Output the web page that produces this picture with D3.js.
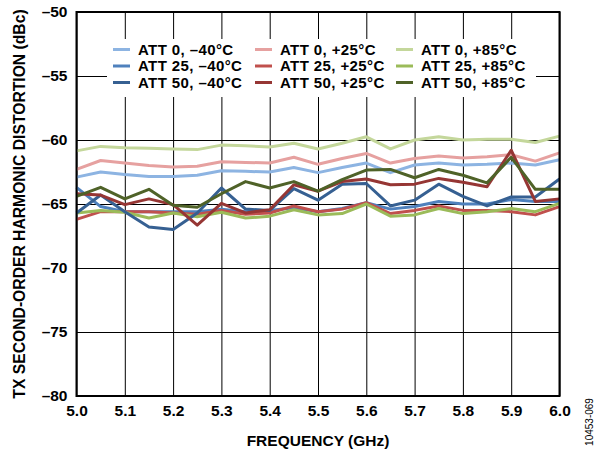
<!DOCTYPE html>
<html>
<head>
<meta charset="utf-8">
<script src="https://cdn.jsdelivr.net/npm/d3@7"></script>
<style>
  body { margin: 0; background: #fff; }
  text { font-family: "Liberation Sans", Arial, sans-serif; }
</style>
</head>
<body>
<script>
// frequency points (GHz)
let freqs = [5.0, 5.05, 5.1, 5.15, 5.2, 5.25, 5.3, 5.35, 5.4, 5.45, 5.5,
             5.55, 5.6, 5.65, 5.7, 5.75, 5.8, 5.85, 5.9, 5.95, 6.0];

let xTicks = [5.0, 5.1, 5.2, 5.3, 5.4, 5.5, 5.6, 5.7, 5.8, 5.9, 6.0];
let yTicks = [-80, -75, -70, -65, -60, -55, -50];

// series, in legend order
let att0m40  = [-62.9, -62.5, -62.7, -62.85, -62.85, -62.75, -62.4, -62.45, -62.5, -62.15, -62.55, -62.15, -61.8, -62.55, -61.95, -61.8, -61.95, -61.9, -61.8, -61.95, -61.55];
let att0p25  = [-62.3, -61.6, -61.8, -62.0, -62.1, -62.05, -61.7, -61.75, -61.8, -61.35, -61.9, -61.45, -61.05, -61.8, -61.45, -61.25, -61.4, -61.3, -61.15, -61.65, -61.0];
let att0p85  = [-60.85, -60.5, -60.6, -60.65, -60.7, -60.75, -60.4, -60.45, -60.55, -60.25, -60.7, -60.25, -59.75, -60.7, -60.0, -59.75, -60.0, -59.95, -59.95, -60.2, -59.7];
let att25m40 = [-63.7, -65.2, -65.6, -65.6, -65.6, -65.6, -65.4, -65.6, -65.5, -65.3, -65.6, -65.35, -64.9, -65.4, -65.2, -64.8, -65.0, -65.0, -64.65, -64.8, -64.8];
let att25p25 = [-66.2, -65.6, -65.6, -65.6, -65.7, -65.8, -65.5, -65.8, -65.7, -65.15, -65.6, -65.4, -64.9, -65.75, -65.5, -65.15, -65.5, -65.5, -65.6, -65.85, -65.2];
let att25p85 = [-65.7, -65.5, -65.65, -66.1, -65.7, -66.0, -65.65, -66.1, -65.95, -65.45, -65.85, -65.75, -65.0, -65.95, -65.85, -65.35, -65.75, -65.6, -65.35, -65.6, -64.95];
let att50m40 = [-65.7, -64.3, -65.6, -66.8, -67.0, -65.7, -63.75, -65.4, -65.5, -63.8, -64.7, -63.45, -63.4, -65.15, -64.7, -63.45, -64.4, -65.15, -64.45, -64.45, -63.05];
let att50p25 = [-64.2, -64.3, -65.05, -64.6, -65.05, -66.65, -64.95, -65.7, -65.45, -63.5, -64.0, -63.25, -63.05, -63.5, -63.45, -63.0, -63.3, -63.65, -60.8, -64.8, -64.6];
let att50p85 = [-64.4, -63.7, -64.6, -63.85, -65.1, -65.25, -64.2, -63.25, -63.75, -63.25, -64.0, -63.1, -62.35, -62.3, -62.95, -62.3, -62.75, -63.35, -61.35, -63.85, -63.85];

let seriesNames = ["ATT 0, –40°C", "ATT 0, +25°C", "ATT 0, +85°C",
                   "ATT 25, –40°C", "ATT 25, +25°C", "ATT 25, +85°C",
                   "ATT 50, –40°C", "ATT 50, +25°C", "ATT 50, +85°C"];
let seriesValues = [att0m40, att0p25, att0p85, att25m40, att25p25, att25p85, att50m40, att50p25, att50p85];
let colors = ["#8db4e2", "#e6a1a0", "#c4d79b",
              "#4f81bd", "#c0504d", "#9bbb59",
              "#366092", "#963634", "#4f6228"];

let margin = {top: 12, right: 40.5, bottom: 56, left: 76.5};
let size = {width: 600, height: 452};

let svg = d3.select("body").append("svg")
    .attr("width", size.width)
    .attr("height", size.height);

let x = d3.scaleLinear()
    .domain([5.0, 6.0])
    .range([margin.left, size.width - margin.right]);

let y = d3.scaleLinear()
    .domain([-80, -50])
    .range([size.height - margin.bottom, margin.top]);

let minus = d => (d < 0 ? "–" + Math.abs(d) : String(d));

// grid
svg.append("g")
    .attr("transform", `translate(0,${y(-80)})`)
    .call(d3.axisBottom(x).tickValues(xTicks).tickSize(y(-50) - y(-80)).tickFormat(""))
    .call(g => g.select(".domain").remove())
    .call(g => g.selectAll("line").attr("stroke", "#000").attr("stroke-width", 1));

svg.append("g")
    .attr("transform", `translate(${x(5.0)},0)`)
    .call(d3.axisRight(y).tickValues(yTicks).tickSize(x(6.0) - x(5.0)).tickFormat(""))
    .call(g => g.select(".domain").remove())
    .call(g => g.selectAll("line").attr("stroke", "#000").attr("stroke-width", 1));

// tick labels
svg.append("g")
    .attr("transform", `translate(0,${y(-80)})`)
    .call(d3.axisBottom(x).tickValues(xTicks).tickSize(0).tickPadding(9).tickFormat(d3.format(".1f")))
    .call(g => g.select(".domain").remove())
    .call(g => g.selectAll("text")
        .attr("font-family", "Liberation Sans, Arial, sans-serif")
        .attr("font-size", 15.5).attr("font-weight", "bold").attr("fill", "#000"));

svg.append("g")
    .attr("transform", `translate(${x(5.0)},0)`)
    .call(d3.axisLeft(y).tickValues(yTicks).tickSize(0).tickPadding(9).tickFormat(minus))
    .call(g => g.select(".domain").remove())
    .call(g => g.selectAll("text")
        .attr("font-family", "Liberation Sans, Arial, sans-serif")
        .attr("font-size", 15.5).attr("font-weight", "bold").attr("fill", "#000"));

// legend background covers the grid
svg.append("rect")
    .attr("x", 107).attr("y", 39)
    .attr("width", 429).attr("height", 58)
    .attr("fill", "#fff");

// lines
let line = d3.line()
    .x((d, i) => x(freqs[i]))
    .y(d => y(d));

svg.append("g")
    .selectAll("path")
    .data(seriesValues)
    .join("path")
    .attr("fill", "none")
    .attr("stroke", (d, i) => colors[i])
    .attr("stroke-width", 3)
    .attr("stroke-linejoin", "round")
    .attr("d", line);

// plot frame
svg.append("rect")
    .attr("x", x(5.0)).attr("y", y(-50))
    .attr("width", x(6.0) - x(5.0)).attr("height", y(-80) - y(-50))
    .attr("fill", "none")
    .attr("stroke", "#000")
    .attr("stroke-width", 2);

// legend
let colX = [113, 255, 396];
let rowY = [49.5, 66, 82.5];
let legend = svg.append("g")
    .selectAll("g")
    .data(seriesNames)
    .join("g")
    .attr("transform", (d, i) => `translate(${colX[i % 3]},${rowY[Math.floor(i / 3)]})`);

legend.append("line")
    .attr("x1", 0).attr("x2", 17)
    .attr("stroke", (d, i) => colors[i])
    .attr("stroke-width", 3);

legend.append("text")
    .attr("x", 25)
    .attr("dy", "0.36em")
    .attr("font-size", 15)
    .attr("letter-spacing", 0.4)
    .attr("font-weight", "bold")
    .text(d => d);

// axis titles
svg.append("text")
    .attr("x", (x(5.0) + x(6.0)) / 2)
    .attr("y", 446)
    .attr("text-anchor", "middle")
    .attr("font-size", 15.5)
    .attr("font-weight", "bold")
    .text("FREQUENCY (GHz)");

svg.append("text")
    .attr("transform", `translate(25,${(y(-50) + y(-80)) / 2}) rotate(-90)`)
    .attr("text-anchor", "middle")
    .attr("font-size", 15.7)
    .attr("font-weight", "bold")
    .text("TX SECOND-ORDER HARMONIC DISTORTION (dBc)");

svg.append("text")
    .attr("transform", "translate(593,422) rotate(-90)")
    .attr("text-anchor", "middle")
    .attr("font-size", 10)
    .text("10453-069");
</script>
</body>
</html>
